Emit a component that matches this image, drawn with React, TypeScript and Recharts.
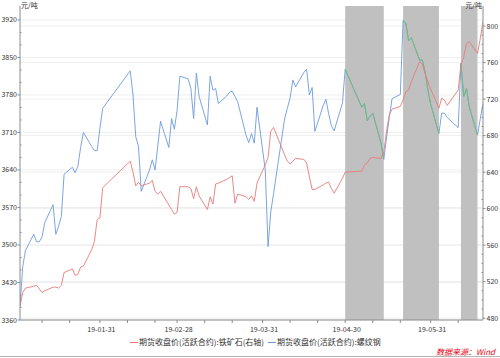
import { LineChart, Line, XAxis, YAxis, ReferenceArea, CartesianGrid } from 'recharts';

const YEAR = 2019;

// trading days (MM-DD)
const tradeDates = [
  '01-02', '01-03', '01-04', '01-07', '01-08', '01-09', '01-10', '01-11', '01-14', '01-15', '01-16',
  '01-17', '01-18', '01-21', '01-22', '01-23', '01-24', '01-25', '01-28', '01-29', '01-30', '01-31',
  '02-01', '02-11', '02-12', '02-13', '02-14', '02-15', '02-18', '02-19', '02-20', '02-21', '02-22',
  '02-25', '02-26', '02-27', '02-28',
  '03-01', '03-04', '03-05', '03-06', '03-07', '03-08', '03-11', '03-12', '03-13', '03-14', '03-15',
  '03-18', '03-19', '03-20', '03-21', '03-22', '03-25', '03-26', '03-27', '03-28', '03-29',
  '04-01', '04-02', '04-03', '04-04', '04-08', '04-09', '04-10', '04-11', '04-12', '04-15', '04-16',
  '04-17', '04-18', '04-19', '04-22', '04-23', '04-24', '04-25', '04-26', '04-29', '04-30',
  '05-06', '05-07', '05-08', '05-09', '05-10', '05-13', '05-14', '05-15', '05-16', '05-17', '05-20',
  '05-21', '05-22', '05-23', '05-24', '05-27', '05-28', '05-29', '05-30', '05-31',
  '06-03', '06-04', '06-05', '06-06', '06-10', '06-11', '06-12', '06-13', '06-14', '06-17', '06-18', '06-19',
];

// 期货收盘价(活跃合约):螺纹钢 (left axis)
const rebar = [
  3385, 3460, 3490, 3520, 3506, 3506, 3515, 3542, 3575, 3520, 3535,
  3553, 3632, 3645, 3635, 3647, 3682, 3710, 3684, 3676, 3676, 3718,
  3755, 3825, 3780, 3702, 3684, 3600, 3640, 3659, 3640, 3685, 3731,
  3682, 3736, 3716, 3751,
  3815, 3810, 3792, 3736, 3821, 3777, 3724, 3815, 3789, 3792, 3764,
  3778, 3785, 3787, 3777, 3767, 3705, 3691, 3708, 3690, 3757,
  3640, 3497, 3562, 3596, 3735, 3755, 3774, 3808, 3795, 3822, 3828,
  3780, 3794, 3712, 3760, 3772, 3745, 3722, 3713, 3765, 3828,
  3757, 3764, 3732, 3740, 3746, 3690, 3660, 3700, 3738, 3773, 3781,
  3919, 3914, 3881, 3887, 3845, 3845, 3822, 3790, 3763,
  3708, 3746, 3746, 3738, 3719, 3839, 3777, 3792, 3758, 3705, 3735, 3764,
];

// 期货收盘价(活跃合约):铁矿石 (right axis)
const ironOre = [
  493, 508, 513, 515, 516, 512, 508, 510, 514, 514, 513,
  516, 530, 534, 527, 528, 536, 537, 555, 564, 588, 590,
  623, 652, 640, 625, 629, 625, 628, 631, 619, 616, 619,
  604, 599, 594, 596,
  624, 624, 622, 611, 624, 614, 599, 613, 605, 627, 628,
  632, 634, 636, 606, 616, 613, 610, 614, 608, 628,
  648, 656, 685, 689, 659, 652, 649, 652, 655, 654, 650,
  635, 621, 621, 626, 628, 629, 622, 617, 633, 640,
  641, 648, 650, 655, 656, 655, 662, 685, 703, 709, 712,
  719, 728, 730, 739, 761, 758, 748, 739, 731,
  710, 721, 719, 713, 730, 758, 766, 781, 783, 770, 786, 805,
];

// shaded periods [start, end]
const shadeStarts = ['04-30', '05-21', '06-11'];
const shadeEnds = ['05-14', '06-03', '06-17'];

const xTickDates = [
  '01-10', '01-20', '01-31', '02-10', '02-20', '02-28', '03-10', '03-20', '03-31',
  '04-10', '04-20', '04-30', '05-10', '05-20', '05-31', '06-10',
];
const xLabelDates = ['01-31', '02-28', '03-31', '04-30', '05-31'];

const leftTicks = [3360, 3430, 3500, 3570, 3640, 3710, 3780, 3850, 3920];
const rightTicks = [480, 520, 560, 600, 640, 680, 720, 760, 800];

const dayIndex = (md: string) => {
  const [m, d] = md.split('-').map(Number);
  return (Date.UTC(YEAR, m - 1, d) - Date.UTC(YEAR, 0, 1)) / 86400000;
};

const rebarData = tradeDates.map((t, i) => ({ d: dayIndex(t), v: rebar[i] }));
const oreData = tradeDates.map((t, i) => ({ d: dayIndex(t), v: ironOre[i] }));
const greenSegments = shadeStarts.map((s, k) =>
  rebarData.filter((p) => p.d >= dayIndex(s) && p.d <= dayIndex(shadeEnds[k]))
);

const withMinors = (majors: number[], parts: number) => {
  const out: number[] = [];
  majors.forEach((m, i) => {
    out.push(m);
    if (i < majors.length - 1) {
      const step = (majors[i + 1] - m) / parts;
      for (let j = 1; j < parts; j++) out.push(m + step * j);
    }
  });
  return out;
};

const font = '"Noto Sans CJK SC", "Liberation Sans", sans-serif';
const axisColor = '#8c8c8c';
const textColor = '#333';

const LeftTick = ({ x, y, payload }: any) => {
  const major = leftTicks.includes(payload.value);
  return (
    <g>
      {major ? (
        <>
          <line x1={x - 2.5} x2={x} y1={y} y2={y} stroke={axisColor} />
          <text x={x - 3} y={y + 2.5} textAnchor="end" fontSize={7} fill={textColor} fontFamily={font}>
            {payload.value}
          </text>
        </>
      ) : (
        <line x1={x} x2={x + 1.5} y1={y} y2={y} stroke={axisColor} />
      )}
    </g>
  );
};

const RightTick = ({ x, y, payload }: any) => {
  const major = rightTicks.includes(payload.value);
  return (
    <g>
      {major ? (
        <>
          <line x1={x} x2={x + 2.5} y1={y} y2={y} stroke={axisColor} />
          <text x={x + 3.5} y={y + 2.5} textAnchor="start" fontSize={7} fill={textColor} fontFamily={font}>
            {payload.value}
          </text>
        </>
      ) : (
        <line x1={x - 1.5} x2={x} y1={y} y2={y} stroke={axisColor} />
      )}
    </g>
  );
};

const XTick = ({ x, y, payload }: any) => {
  const idx = xLabelDates.findIndex((t) => dayIndex(t) === payload.value);
  return (
    <g>
      <line x1={x} x2={x} y1={y} y2={y + 3} stroke={axisColor} />
      {idx >= 0 && (
        <text x={x + 1.5} y={y + 11.5} textAnchor="middle" fontSize={7} fill={textColor} fontFamily={font}>
          {`${String(YEAR).slice(2)}-${xLabelDates[idx]}`}
        </text>
      )}
    </g>
  );
};

const BLUE = '#6c9bdb';
const RED = '#e97a7a';
const GREEN = '#74bd74';

export default function App() {
  return (
    <div style={{ position: 'absolute', left: 0, top: 0, width: 500, height: 358, background: '#fff', fontFamily: font }}>
      <LineChart width={500} height={358} margin={{ top: 6, right: 0, bottom: 20, left: 0 }}>
        <CartesianGrid yAxisId="left" vertical={false} horizontalValues={leftTicks} stroke="#efefef" />
        <CartesianGrid yAxisId="right" vertical={false} horizontalValues={rightTicks} stroke="#efefef" />
        <XAxis
          type="number"
          dataKey="d"
          domain={[dayIndex(tradeDates[0]), dayIndex(tradeDates[tradeDates.length - 1])]}
          ticks={xTickDates.map(dayIndex)}
          interval={0}
          tickSize={0}
          tickMargin={0}
          tickLine={false}
          height={18}
          stroke={axisColor}
          tick={(p: any) => <XTick {...p} />}
          allowDataOverflow
        />
        <YAxis
          yAxisId="left"
          orientation="left"
          width={20}
          domain={[3360, 3946]}
          ticks={withMinors(leftTicks, 3)}
          interval={0}
          tickSize={0}
          tickMargin={0}
          tickLine={false}
          stroke={axisColor}
          tick={(p: any) => <LeftTick {...p} />}
          allowDataOverflow
        />
        <YAxis
          yAxisId="right"
          orientation="right"
          width={17}
          domain={[478, 822]}
          ticks={withMinors(rightTicks, 4)}
          interval={0}
          tickSize={0}
          tickMargin={0}
          tickLine={false}
          stroke={axisColor}
          tick={(p: any) => <RightTick {...p} />}
          allowDataOverflow
        />
        {shadeStarts.map((s, k) => (
          <ReferenceArea
            key={s}
            yAxisId="left"
            x1={dayIndex(s)}
            x2={dayIndex(shadeEnds[k])}
            fill="#c0c0c0"
            fillOpacity={1}
            stroke="none"
          />
        ))}
        <Line yAxisId="left" data={rebarData} dataKey="v" stroke={BLUE} strokeWidth={0.9} dot={false} activeDot={false} isAnimationActive={false} />
        {greenSegments.map((seg, k) => (
          <Line key={k} yAxisId="left" data={seg} dataKey="v" stroke={GREEN} strokeWidth={0.9} dot={false} activeDot={false} isAnimationActive={false} />
        ))}
        <Line yAxisId="right" data={oreData} dataKey="v" stroke={RED} strokeWidth={0.9} dot={false} activeDot={false} isAnimationActive={false} />
      </LineChart>

      <div style={{ position: 'absolute', left: 21, top: 0, fontSize: 7, color: textColor, lineHeight: '10px' }}>元/吨</div>
      <div style={{ position: 'absolute', right: 18, top: 0, fontSize: 7, color: textColor, lineHeight: '10px' }}>元/吨</div>

      <div style={{ position: 'absolute', left: 130, top: 336, display: 'flex', alignItems: 'center', fontSize: 8, color: textColor, lineHeight: '12px', whiteSpace: 'nowrap' }}>
        <span style={{ display: 'inline-block', width: 8, height: 1, background: RED, marginRight: 1 }} />
        <span style={{ marginRight: 4 }}>期货收盘价(活跃合约):铁矿石(右轴)</span>
        <span style={{ display: 'inline-block', width: 8, height: 1, background: BLUE, marginRight: 1 }} />
        <span>期货收盘价(活跃合约):螺纹钢</span>
      </div>

      <div style={{ position: 'absolute', right: 5, top: 346, fontSize: 8, color: '#e60012', fontStyle: 'italic', lineHeight: '12px' }}>
        数据来源：Wind
      </div>
      <div style={{ position: 'absolute', left: 0, top: 356, width: 500, height: 1, background: '#b5b5b5' }} />
    </div>
  );
}
